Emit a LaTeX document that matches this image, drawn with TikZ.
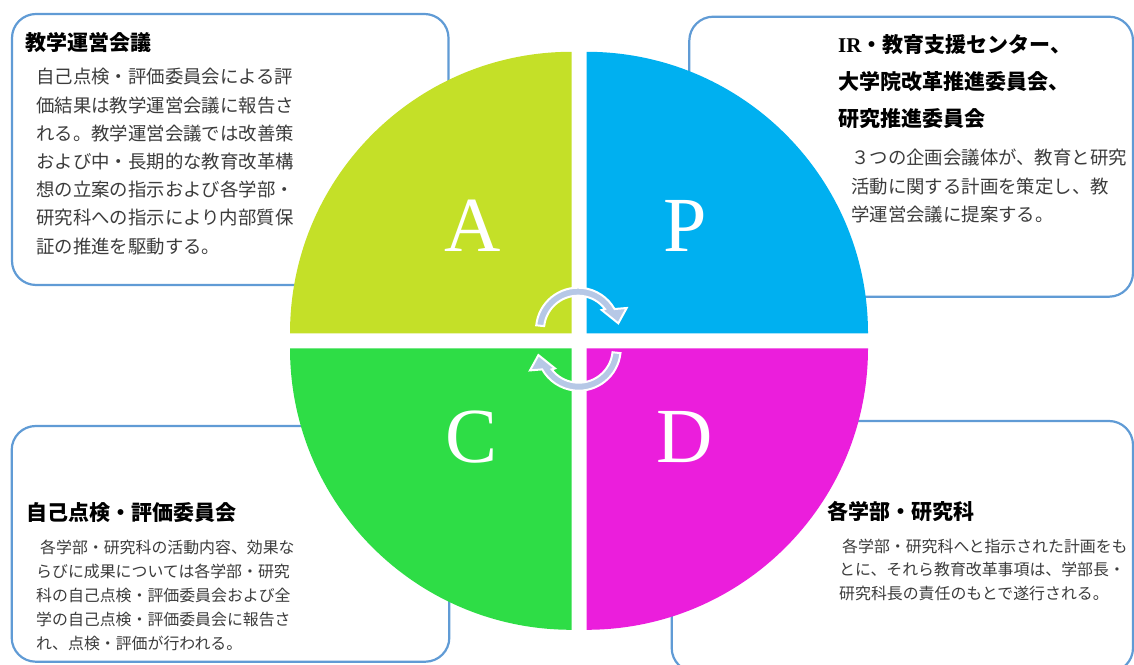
\documentclass[tikz,border=0pt]{standalone}
\usepackage{fontspec}
\setmainfont{Noto Sans CJK JP}
\newfontfamily\latinserif{Liberation Serif}
\definecolor{qlime}{RGB}{196,224,40}
\definecolor{qblue}{RGB}{0,176,240}
\definecolor{qgreen}{RGB}{46,221,70}
\definecolor{qmag}{RGB}{235,30,220}
\definecolor{boxblue}{RGB}{96,155,213}
\definecolor{arrowblue}{RGB}{182,200,230}
\definecolor{bodygray}{RGB}{60,60,60}
\tikzset{
  cyclearrow/.pic={
    \filldraw[cyc] (174:42) arc[start angle=174,end angle=29.5,radius=42]
      -- (48.7,21.7) -- (40.3,6.4) -- (23.7,19.7) -- (37.5:34)
      arc[start angle=37.5,end angle=174,radius=34] -- cycle;
  }
}
\begin{document}
\begin{tikzpicture}[x=1pt,y=1pt,
  box/.style={draw=boxblue, line width=2.2pt, rounded corners=24pt, fill=white},
  letter/.style={text=white, font=\latinserif\fontsize{78}{78}\selectfont, anchor=base, inner sep=0pt},
  ttl/.style={font=\bfseries\fontsize{21}{21}\selectfont, anchor=base west, inner sep=0pt, text=black},
  bodyL/.style={font=\fontsize{18.4}{18.4}\selectfont, anchor=base west, inner sep=0pt, text=bodygray},
  bodyS/.style={font=\fontsize{15.9}{15.9}\selectfont, anchor=base west, inner sep=0pt, text=bodygray},
  cyc/.style={fill=arrowblue, draw=white, line width=2pt, line join=miter}
]
\useasboundingbox (0,0) rectangle (1134,664);
% boxes
\draw[box] (12,379) rectangle (448.5,650);
\draw[box] (689.3,367.3) rectangle (1133,647.3);
\draw[box] (11.7,2.3) rectangle (449.3,238);
\draw[box] (671.7,-8) rectangle (1133,243);
% quadrants
\fill[qlime] (571.5,330.7) -- ++(-281.5,0) arc[start angle=180,end angle=90,radius=281.5] -- cycle;
\fill[qblue] (586.5,330.7) -- ++(0,281.5) arc[start angle=90,end angle=0,radius=281.5] -- cycle;
\fill[qgreen] (571.5,315.7) -- ++(-281.5,0) arc[start angle=180,end angle=270,radius=281.5] -- cycle;
\fill[qmag] (586.5,315.7) -- ++(281.5,0) arc[start angle=0,end angle=-90,radius=281.5] -- cycle;
% letters
\node[letter] (la) at (472.5,412) {A};
\node[letter] (lp) at (685,412) {P};
\node[letter] (lc) at (472,201) {C};
\node[letter] (ld) at (685,201) {D};
% cycle arrows
\pic (up) at (578,334.3) {cyclearrow};
\pic[rotate=180] (down) at (578.7,315.3) {cyclearrow};
% A box text
\node[ttl] (ta) at (25,613) {教学運営会議};
\foreach \t [count=\i] in {自己点検・評価委員会による評,価結果は教学運営会議に報告さ,れる。教学運営会議では改善策,および中・長期的な教育改革構,想の立案の指示および各学部・,研究科への指示により内部質保,証の推進を駆動する。}
  \node[bodyL] (ab\i) at (36,{580-28.2*(\i-1)}) {\t};
% P box text
\node[ttl] (tp1) at (838,611) {{\latinserif\bfseries IR}・教育支援センター、};
\node[ttl] (tp2) at (838,574) {大学院改革推進委員会、};
\node[ttl] (tp3) at (838,537) {研究推進委員会};
\foreach \t [count=\i] in {３つの企画会議体が、教育と研究,活動に関する計画を策定し、教,学運営会議に提案する。}
  \node[bodyL] (pb\i) at (851,{499-28.5*(\i-1)}) {\t};
% C box text
\node[ttl] (tc) at (26,144) {自己点検・評価委員会};
\foreach \t [count=\i] in {\hspace{4pt}各学部・研究科の活動内容、効果な,らびに成果については各学部・研究,科の自己点検・評価委員会および全,学の自己点検・評価委員会に報告さ,れ、点検・評価が行われる。}
  \node[bodyS] (cb\i) at (36,{111-24*(\i-1)}) {\t};
% D box text
\node[ttl] (td) at (827,145) {各学部・研究科};
\foreach \t [count=\i] in {\hspace{3pt}各学部・研究科へと指示された計画をも,とに、それら教育改革事項は、学部長・,研究科長の責任のもとで遂行される。}
  \node[bodyS] (db\i) at (839,{112-23.5*(\i-1)}) {\t};
\end{tikzpicture}
\end{document}
